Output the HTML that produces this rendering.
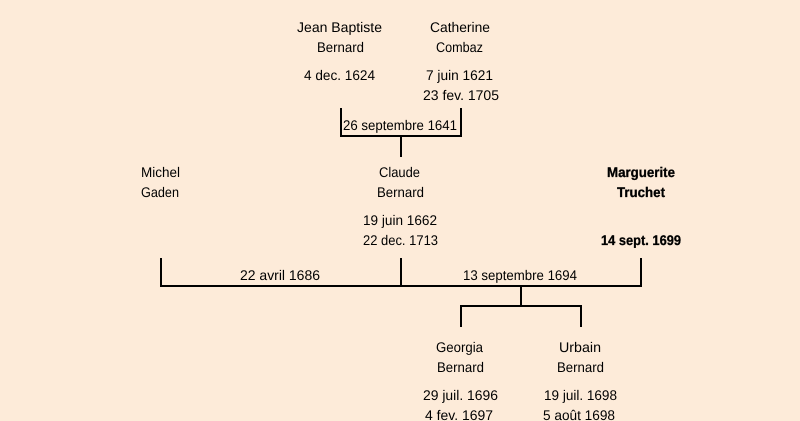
<!DOCTYPE html>
<html lang="fr">
<head>
<meta charset="utf-8">
<title>Arbre généalogique</title>
<style>
html,body{margin:0;padding:0;background:#fdebd9;width:800px;height:421px;overflow:hidden}
svg{display:block}
text{font-family:"Liberation Sans",sans-serif;font-size:14px;fill:#000;text-rendering:geometricPrecision}
text.b{font-weight:bold;stroke:#000;stroke-width:.3px}
</style>
</head>
<body>
<svg width="800" height="421" viewBox="0 0 800 421" xmlns="http://www.w3.org/2000/svg">
<rect width="800" height="421" fill="#fdebd9"/>
<g fill="#000" shape-rendering="crispEdges">
<rect x="340" y="108" width="2" height="29"/>
<rect x="460" y="108" width="2" height="29"/>
<rect x="340" y="135" width="122" height="2"/>
<rect x="400" y="137" width="2" height="20"/>
<rect x="160" y="258" width="2" height="29"/>
<rect x="400" y="258" width="2" height="29"/>
<rect x="640" y="258" width="2" height="29"/>
<rect x="160" y="285" width="482" height="2"/>
<rect x="520" y="287" width="2" height="20"/>
<rect x="460" y="305" width="122" height="2"/>
<rect x="460" y="305" width="2" height="22"/>
<rect x="580" y="305" width="2" height="22"/>
</g>
<g>
<text x="297" y="32" textLength="85" lengthAdjust="spacingAndGlyphs">Jean Baptiste</text>
<text x="317" y="52" textLength="47" lengthAdjust="spacingAndGlyphs">Bernard</text>
<text x="304" y="80" textLength="71" lengthAdjust="spacingAndGlyphs">4 dec. 1624</text>
<text x="430" y="32" textLength="60" lengthAdjust="spacingAndGlyphs">Catherine</text>
<text x="436" y="52" textLength="47" lengthAdjust="spacingAndGlyphs">Combaz</text>
<text x="426" y="80" textLength="67" lengthAdjust="spacingAndGlyphs">7 juin 1621</text>
<text x="423" y="100" textLength="76" lengthAdjust="spacingAndGlyphs">23 fev. 1705</text>
<text x="343" y="130" textLength="114" lengthAdjust="spacingAndGlyphs">26 septembre 1641</text>
<text x="141" y="177" textLength="39" lengthAdjust="spacingAndGlyphs">Michel</text>
<text x="141" y="197" textLength="38" lengthAdjust="spacingAndGlyphs">Gaden</text>
<text x="379" y="177" textLength="41" lengthAdjust="spacingAndGlyphs">Claude</text>
<text x="377" y="197" textLength="47" lengthAdjust="spacingAndGlyphs">Bernard</text>
<text x="363" y="225" textLength="74" lengthAdjust="spacingAndGlyphs">19 juin 1662</text>
<text x="363" y="245" textLength="75" lengthAdjust="spacingAndGlyphs">22 dec. 1713</text>
<text x="240" y="280" textLength="80" lengthAdjust="spacingAndGlyphs">22 avril 1686</text>
<text class="b" x="607" y="177" textLength="68" lengthAdjust="spacingAndGlyphs">Marguerite</text>
<text class="b" x="617" y="197" textLength="48" lengthAdjust="spacingAndGlyphs">Truchet</text>
<text class="b" x="601" y="245" textLength="80" lengthAdjust="spacingAndGlyphs">14 sept. 1699</text>
<text x="463" y="280" textLength="114" lengthAdjust="spacingAndGlyphs">13 septembre 1694</text>
<text x="436" y="352" textLength="47" lengthAdjust="spacingAndGlyphs">Georgia</text>
<text x="437" y="372" textLength="47" lengthAdjust="spacingAndGlyphs">Bernard</text>
<text x="423" y="400" textLength="75" lengthAdjust="spacingAndGlyphs">29 juil. 1696</text>
<text x="425" y="420" textLength="68" lengthAdjust="spacingAndGlyphs">4 fev. 1697</text>
<text x="559" y="352" textLength="42" lengthAdjust="spacingAndGlyphs">Urbain</text>
<text x="557" y="372" textLength="47" lengthAdjust="spacingAndGlyphs">Bernard</text>
<text x="544" y="400" textLength="73" lengthAdjust="spacingAndGlyphs">19 juil. 1698</text>
<text x="543" y="420" textLength="72" lengthAdjust="spacingAndGlyphs">5 août 1698</text>
</g>
</svg>
</body>
</html>
